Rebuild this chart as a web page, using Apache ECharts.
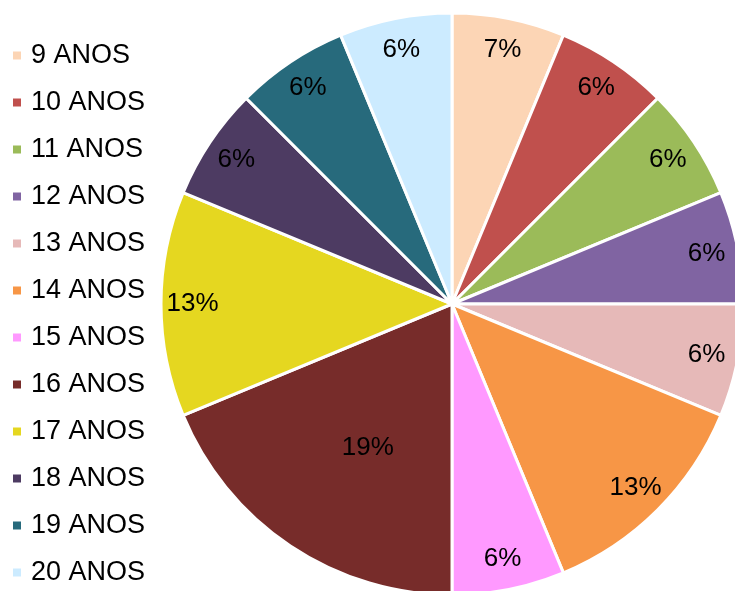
<!DOCTYPE html>
<html>
<head>
<meta charset="utf-8">
<script src="https://cdn.jsdelivr.net/npm/echarts@6/dist/echarts.min.js"></script>
<style>
html,body{margin:0;padding:0;background:#fff;}
#chart{width:735px;height:591px;}
</style>
</head>
<body>
<div id="chart"></div>
<script>
const categories = ['9 ANOS','10 ANOS','11 ANOS','12 ANOS','13 ANOS','14 ANOS','15 ANOS','16 ANOS','17 ANOS','18 ANOS','19 ANOS','20 ANOS'];
const values = [1,1,1,1,1,2,1,3,2,1,1,1];
const colors = ['#FCD5B5','#C0504D','#9BBB59','#8064A2','#E6B9B8','#F79646','#FF99FF','#772C2A','#E5D720','#4D3B62','#276A7C','#CCEBFF'];

const chart = echarts.init(document.getElementById('chart'));
const font = '"Liberation Sans", Arial, sans-serif';

const mainData = categories.map((c, i) => ({
  name: c, value: values[i], itemStyle: { color: colors[i] }
}));
const labelData = categories.map((c, i) => {
  const d = { name: c, value: values[i] };
  if (values[i] === Math.max(...values)) {
    d.label = { offset: [60, -72] };
  }
  return d;
});

chart.setOption({
  animation: false,
  backgroundColor: '#fff',
  legend: {
    orient: 'vertical',
    left: 11,
    top: 42,
    padding: 0,
    itemWidth: 10,
    itemHeight: 10,
    itemGap: 20,
    icon: 'rect',
    data: categories,
    textStyle: { fontFamily: font, fontSize: 27, color: '#000', lineHeight: 27, padding: [0,0,0,4] }
  },
  series: [
    {
      type: 'pie',
      center: [452, 304],
      radius: [0, 291],
      startAngle: 90,
      clockwise: true,
      percentPrecision: 0,
      data: mainData,
      itemStyle: { borderColor: '#fff', borderWidth: 3 },
      label: { show: false },
      labelLine: { show: false },
      emphasis: { disabled: true }
    },
    {
      type: 'pie',
      center: [452, 304],
      radius: [222, 291],
      startAngle: 90,
      clockwise: true,
      percentPrecision: 0,
      silent: true,
      data: labelData,
      itemStyle: { color: 'rgba(0,0,0,0)', borderWidth: 0 },
      label: {
        show: true,
        position: 'inside',
        formatter: '{d}%',
        fontFamily: font,
        fontSize: 26,
        color: '#000'
      },
      labelLine: { show: false },
      emphasis: { disabled: true }
    }
  ]
});
</script>
</body>
</html>
